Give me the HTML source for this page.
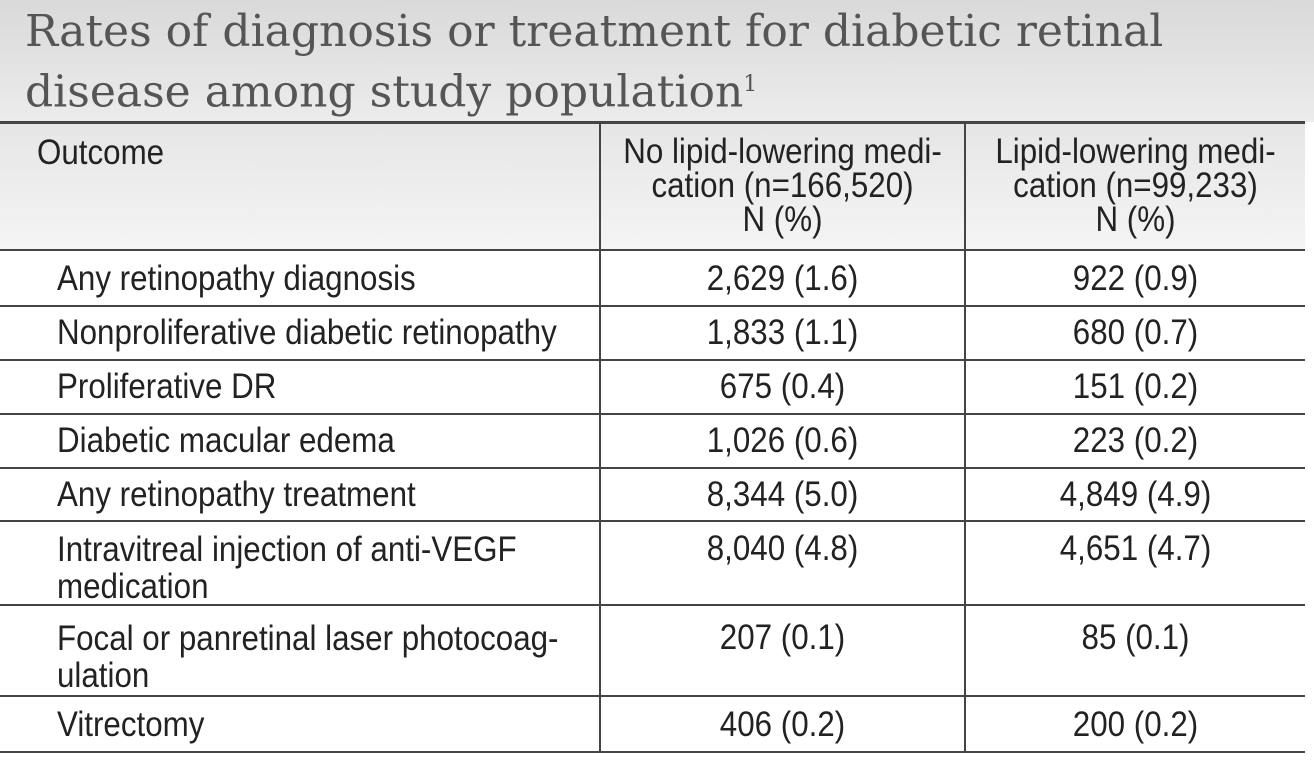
<!DOCTYPE html>
<html><head><meta charset="utf-8"><style>
body{margin:0;width:1314px;height:767px;background:#fff;position:relative;overflow:hidden;font-family:"Liberation Sans",sans-serif;color:#222}
.title{position:absolute;left:0;top:0;width:1314px;height:122px;background:linear-gradient(#d9d9d9,#ececec)}
.t{position:absolute;left:25px;font-family:"DejaVu Serif","Liberation Serif",serif;font-size:44px;line-height:50px;color:#555;white-space:nowrap}
.hdr{position:absolute;left:0;top:124px;width:1305px;height:126px;background:linear-gradient(#e6e6e6,#f4f4f4)}
.h{position:absolute;height:2px;background:#444;left:0;width:1305px}
.v{position:absolute;width:2px;background:#444;top:124px;height:628px}
.c{position:absolute;font-size:35px;white-space:nowrap;line-height:35px;transform:scaleX(0.895);transform-origin:0 0}
.m{text-align:center;transform-origin:50% 0}
</style></head><body>
<div class="title"></div>
<div class="t" style="top:7px">Rates of diagnosis or treatment for diabetic retinal</div>
<div class="t" style="top:60px">disease among study population<sup style="font-size:22px">1</sup></div>
<div class="hdr"></div>
<div class="h" style="top:121px;height:3px"></div>
<div class="h" style="top:249px"></div>
<div class="h" style="top:305px"></div>
<div class="h" style="top:359px"></div>
<div class="h" style="top:413px"></div>
<div class="h" style="top:467px"></div>
<div class="h" style="top:520px"></div>
<div class="h" style="top:604px"></div>
<div class="h" style="top:695px"></div>
<div class="h" style="top:751px"></div>
<div class="v" style="left:599px"></div>
<div class="v" style="left:964px"></div>
<div class="c" style="left:37px;top:135px">Outcome</div>
<div class="c m" style="left:601px;width:363px;top:135px;line-height:34px">No lipid-lowering medi-<br>cation (n=166,520)<br>N (%)</div>
<div class="c m" style="left:966px;width:339px;top:135px;line-height:34px">Lipid-lowering medi-<br>cation (n=99,233)<br>N (%)</div>

<div class="c" style="left:57px;top:261px">Any retinopathy diagnosis</div>
<div class="c m" style="left:601px;width:363px;top:261px">2,629 (1.6)</div>
<div class="c m" style="left:966px;width:339px;top:261px">922 (0.9)</div>

<div class="c" style="left:57px;top:315px">Nonproliferative diabetic retinopathy</div>
<div class="c m" style="left:601px;width:363px;top:315px">1,833 (1.1)</div>
<div class="c m" style="left:966px;width:339px;top:315px">680 (0.7)</div>

<div class="c" style="left:57px;top:369px">Proliferative DR</div>
<div class="c m" style="left:601px;width:363px;top:369px">675 (0.4)</div>
<div class="c m" style="left:966px;width:339px;top:369px">151 (0.2)</div>

<div class="c" style="left:57px;top:423px">Diabetic macular edema</div>
<div class="c m" style="left:601px;width:363px;top:423px">1,026 (0.6)</div>
<div class="c m" style="left:966px;width:339px;top:423px">223 (0.2)</div>

<div class="c" style="left:57px;top:477px">Any retinopathy treatment</div>
<div class="c m" style="left:601px;width:363px;top:477px">8,344 (5.0)</div>
<div class="c m" style="left:966px;width:339px;top:477px">4,849 (4.9)</div>

<div class="c" style="left:57px;top:531px;line-height:37px">Intravitreal injection of anti-VEGF<br>medication</div>
<div class="c m" style="left:601px;width:363px;top:531px">8,040 (4.8)</div>
<div class="c m" style="left:966px;width:339px;top:531px">4,651 (4.7)</div>

<div class="c" style="left:57px;top:620px;line-height:37px">Focal or panretinal laser photocoag-<br>ulation</div>
<div class="c m" style="left:601px;width:363px;top:620px">207 (0.1)</div>
<div class="c m" style="left:966px;width:339px;top:620px">85 (0.1)</div>

<div class="c" style="left:57px;top:707px">Vitrectomy</div>
<div class="c m" style="left:601px;width:363px;top:707px">406 (0.2)</div>
<div class="c m" style="left:966px;width:339px;top:707px">200 (0.2)</div>
</body></html>
